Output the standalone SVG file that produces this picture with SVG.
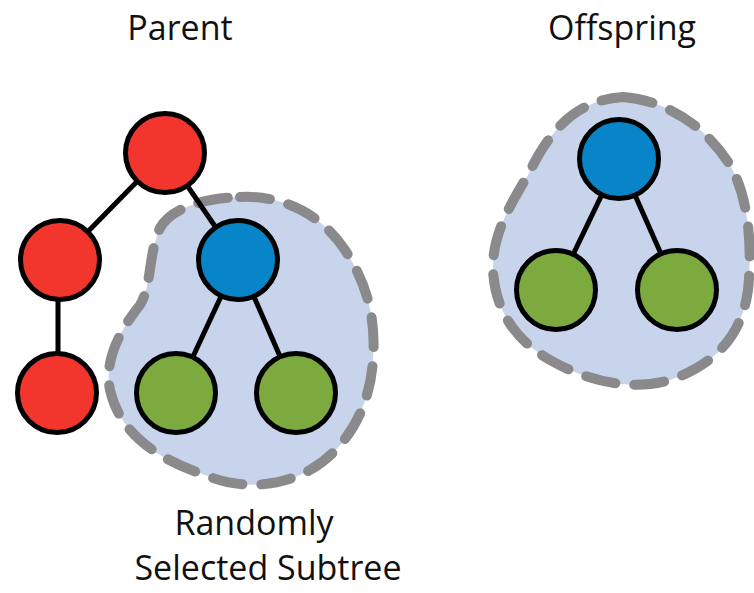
<svg xmlns="http://www.w3.org/2000/svg" width="754" height="593" viewBox="0 0 754 593">
<style>
.lbl{font-family:"Open Sans","Noto Sans",sans-serif;font-size:34px;fill:#111;text-anchor:middle}
.blob{fill:#C7D4EC;stroke:#8A8A8C;stroke-width:10;stroke-dasharray:30 19;stroke-linecap:round}
.n{stroke:#000;stroke-width:5}
.red{fill:#F2362E}
.blue{fill:#0785C8}
.green{fill:#7DAA3E}
.e{stroke:#000;stroke-width:5;fill:none}
</style>
<rect width="754" height="593" fill="#fff"/>
<g id="blob-parent">
<path class="blob" d="M240,197 C280,195 320,212 345,250 C368,285 376,320 373,360 C370,410 345,450 310,470 C280,487 240,490 205,475 C160,460 120,435 110,390 C104,360 120,330 140,305 C152,285 148,255 160,228 C170,210 200,198 240,197 Z"/>
</g>
<g id="blob-offspring">
<path class="blob" d="M623,97 C665,100 705,125 730,165 C750,200 752,250 748,290 C742,335 715,365 670,380 C630,392 585,380 550,360 C515,340 495,310 493,270 C492,235 510,205 528,175 C545,140 570,100 623,97 Z"/>
</g>
<g id="connectors">
<line class="e" x1="165" y1="153" x2="60" y2="260"/>
<line class="e" x1="165" y1="153" x2="238" y2="260"/>
<line class="e" x1="58" y1="260" x2="58" y2="393"/>
<line class="e" x1="238" y1="260" x2="176" y2="393"/>
<line class="e" x1="238" y1="260" x2="296" y2="393"/>
<line class="e" x1="619" y1="159" x2="556" y2="290"/>
<line class="e" x1="619" y1="159" x2="677" y2="290"/>
</g>
<g id="p-root"><circle class="n red" cx="165" cy="153" r="39.5"/></g>
<g id="p-left"><circle class="n red" cx="60" cy="260" r="39.5"/></g>
<g id="p-leftleaf"><circle class="n red" cx="57" cy="393" r="39.5"/></g>
<g id="p-blue"><circle class="n blue" cx="238" cy="260" r="39.5"/></g>
<g id="p-green1"><circle class="n green" cx="176" cy="393" r="39.5"/></g>
<g id="p-green2"><circle class="n green" cx="296" cy="393" r="39.5"/></g>
<g id="o-blue"><circle class="n blue" cx="619" cy="159" r="39.5"/></g>
<g id="o-green1"><circle class="n green" cx="556" cy="290" r="39.5"/></g>
<g id="o-green2"><circle class="n green" cx="677" cy="290" r="39.5"/></g>
<g id="labels">
<text class="lbl" x="180" y="40">Parent</text>
<text class="lbl" x="622" y="40">Offspring</text>
<text class="lbl" x="254" y="535">Randomly</text>
<text class="lbl" x="268" y="580">Selected Subtree</text>
</g>
</svg>
